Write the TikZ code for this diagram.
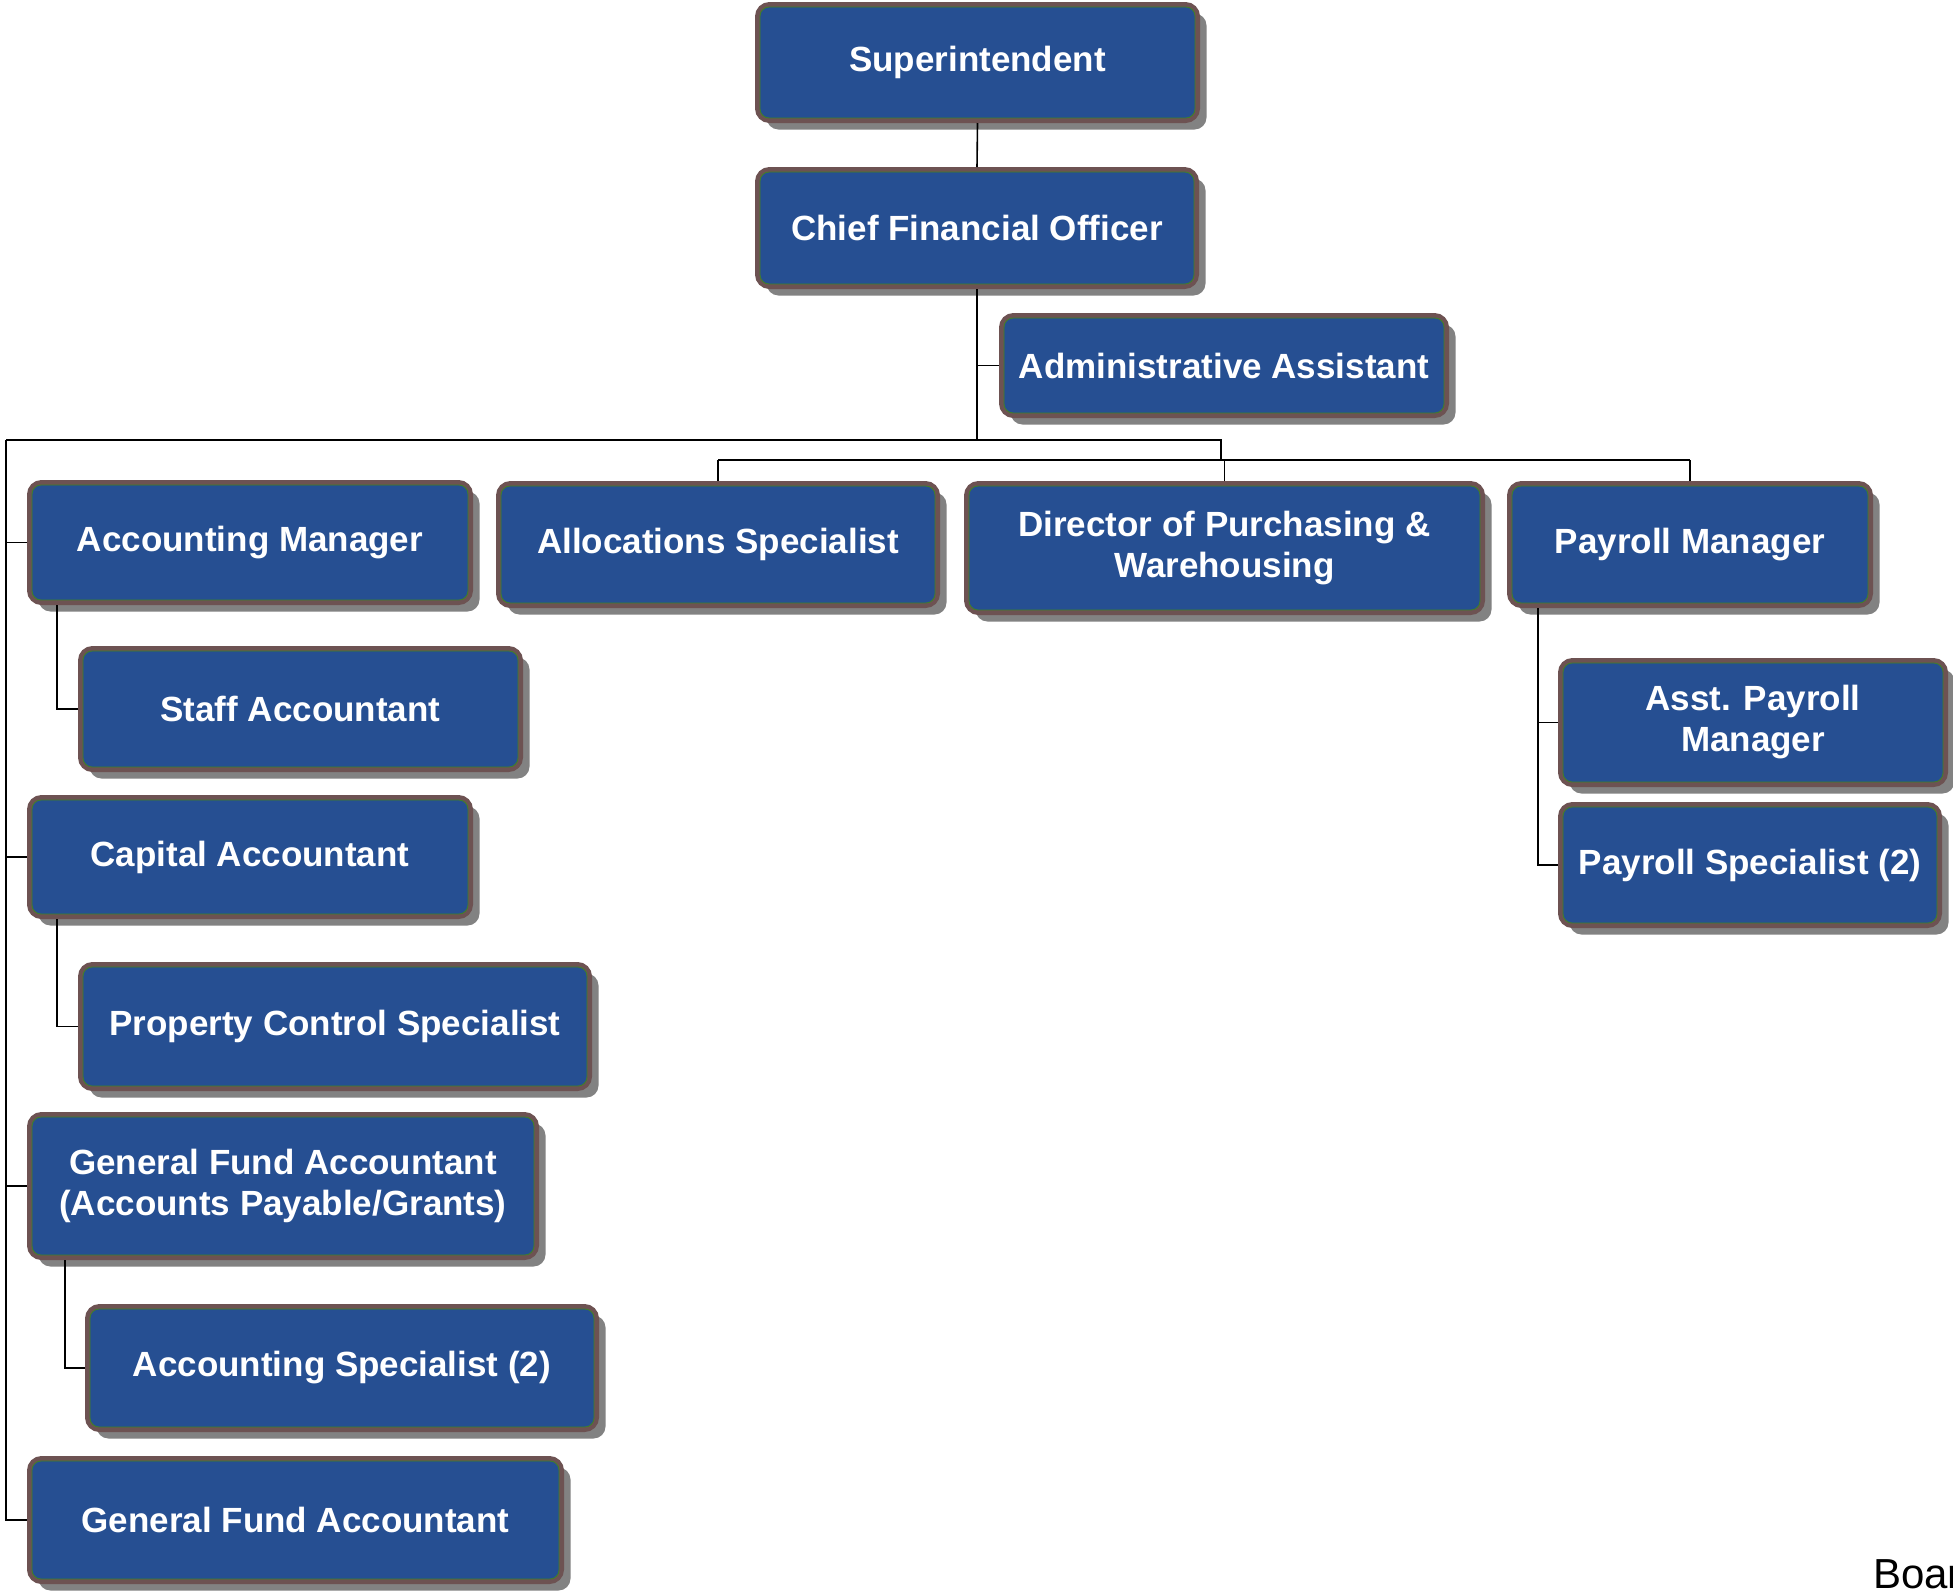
\documentclass[tikz,border=0pt]{standalone}
\usepackage{fontspec}
\setmainfont{Liberation Sans}
\usetikzlibrary{shadows}
\definecolor{boxblue}{RGB}{38,79,146}
\definecolor{bordbrown}{RGB}{109,82,82}
\definecolor{shadowgray}{RGB}{130,130,130}
\definecolor{innergreen}{RGB}{60,130,40}
\tikzset{
  ob/.style={draw=bordbrown, line width=5pt, fill=boxblue, rounded corners=12pt,
    text=white, font=\bfseries\fontsize{35}{41}\selectfont, align=center, inner sep=0pt,
    drop shadow={shadow xshift=9pt, shadow yshift=-9pt, fill=shadowgray, opacity=1}},
  gline/.style={draw=innergreen, line width=0.8pt, rounded corners=9pt},
  conn/.style={draw=black, line width=1.6pt}
}
\newcommand\obox[6]{%
  \node[ob, minimum width={(#4-#2-5)*1pt}, minimum height={(#5-#3-5)*1pt}] (#1) at ({(#2+#4)/2},{(#3+#5)/2}) {#6};
  \draw[gline] ([xshift=5pt,yshift=-5pt]#1.north west) rectangle ([xshift=-5pt,yshift=5pt]#1.south east);
}
\begin{document}
\begin{tikzpicture}[x=1pt,y=-1pt]
\useasboundingbox (0,0) rectangle (1953,1591);
\fill[white] (0,0) rectangle (1953,1591);

% connectors first (behind boxes)
\coordinate (lt) at (6,440);
\coordinate (jr) at (1221,440);
\coordinate (jr2) at (1221,460);

\obox{sup}{755}{2}{1200}{123}{Superintendent}
\obox{cfo}{755}{167}{1199}{289}{Chief Financial Officer}
\obox{adm}{999}{313}{1449}{418}{Administrative Assistant}
\obox{am}{27}{480}{473}{605}{Accounting Manager}
\obox{alloc}{496}{481}{940}{608}{Allocations Specialist}
\obox{dir}{964}{481}{1485}{615}{Director of Purchasing \&\\Warehousing}
\obox{pm}{1507}{481}{1873}{608}{Payroll Manager}
\obox{apm}{1558}{658}{1948}{787}{Asst. Payroll\\Manager}
\obox{ps}{1558}{802}{1942}{928}{Payroll Specialist (2)}
\obox{staff}{78}{646}{523}{772}{Staff Accountant}
\obox{cap}{27}{795}{473}{919}{Capital Accountant}
\obox{prop}{78}{962}{592}{1091}{Property Control Specialist}
\obox{gfap}{27}{1112}{539}{1260}{General Fund Accountant\\(Accounts Payable/Grants)}
\obox{aspec}{85}{1304}{599}{1432}{Accounting Specialist (2)}
\obox{gfa}{27}{1456}{564}{1584}{General Fund Accountant}

\draw[conn] (sup.south) -- (cfo.north);
\draw[conn] (cfo.south) -- (cfo.south |- lt);
\draw[conn] (cfo.south |- adm.west) -- (adm.west);
\draw[conn] (lt) -- (jr) -- (jr2);
\draw[conn] (alloc.north |- jr2) -- (pm.north |- jr2);
\draw[conn] (alloc.north |- jr2) -- (alloc.north);
\draw[conn] (dir.north |- jr2) -- (dir.north);
\draw[conn] (pm.north |- jr2) -- (pm.north);
\draw[conn] (lt) |- (gfa.west);
\draw[conn] (lt |- am.west) -- (am.west);
\draw[conn] (lt |- cap.west) -- (cap.west);
\draw[conn] (lt |- gfap.west) -- (gfap.west);
\draw[conn] ([xshift=30pt]am.south west) |- (staff.west);
\draw[conn] ([xshift=30pt]cap.south west) |- (prop.west);
\draw[conn] ([xshift=38pt]gfap.south west) |- (aspec.west);
\draw[conn] ([xshift=31pt]pm.south west) |- (ps.west);
\draw[conn] ([xshift=31pt]pm.south west |- apm.west) -- (apm.west);

\node[anchor=base west, inner sep=0pt, font=\fontsize{42}{48}\selectfont] (boar) at (1873,1588) {Boar};
\end{tikzpicture}
\end{document}
